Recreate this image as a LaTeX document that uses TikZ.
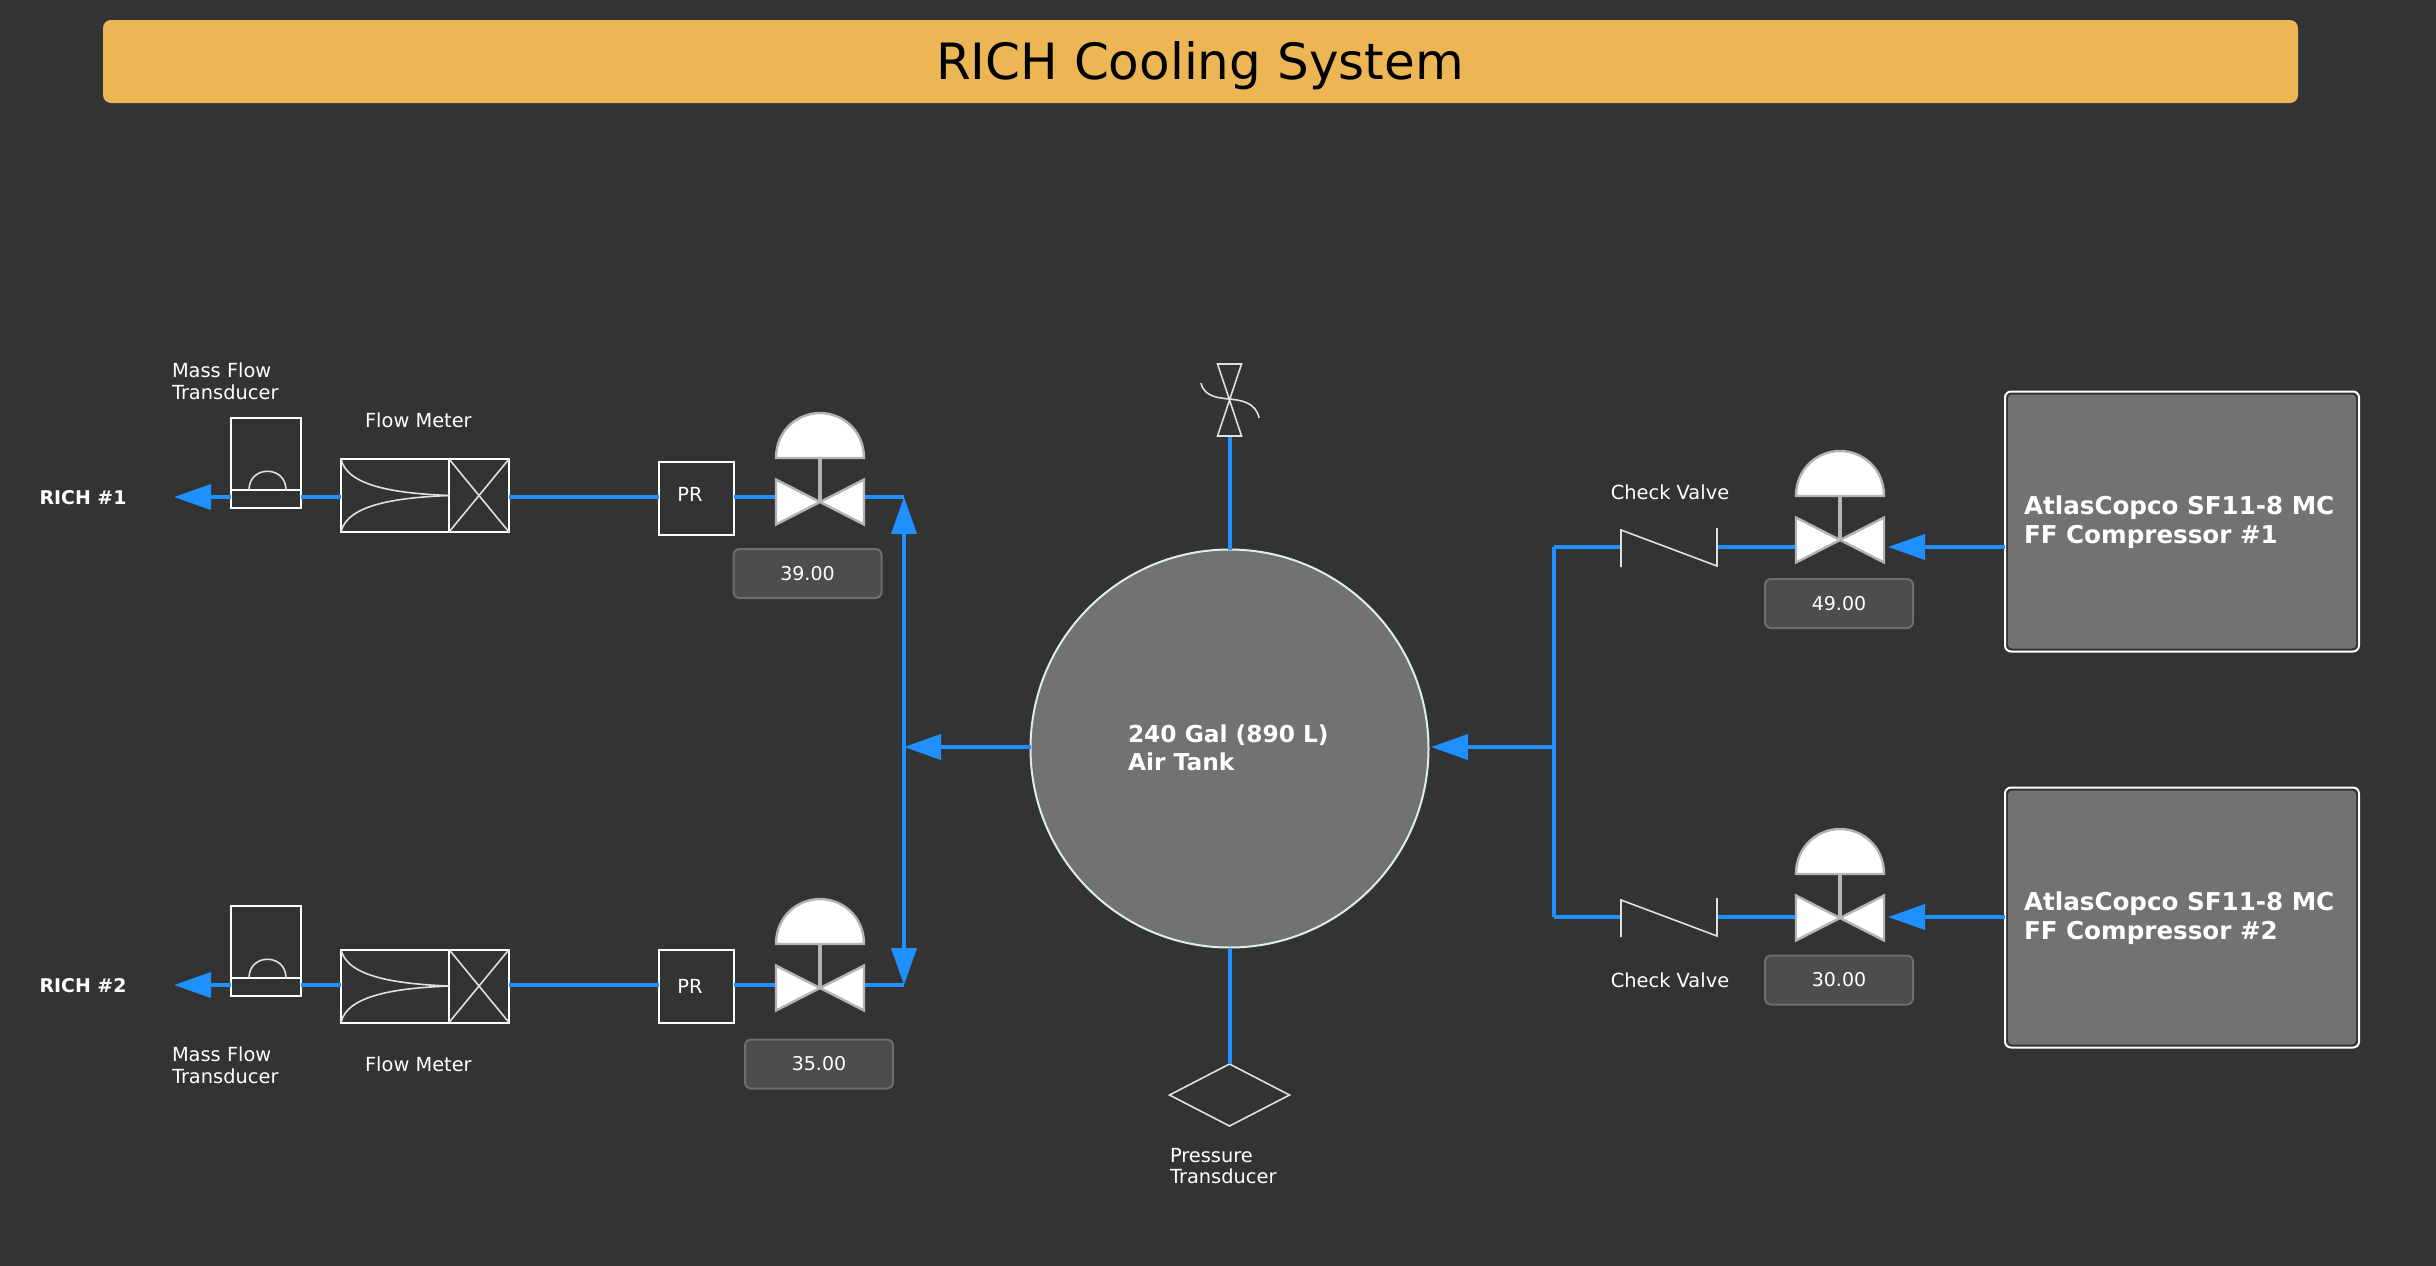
\documentclass[tikz,border=0pt]{standalone}
\usepackage{fontspec}
\setmainfont{DejaVu Sans}
\usetikzlibrary{arrows.meta,shapes.geometric}
\definecolor{panelbg}{HTML}{333333}
\definecolor{pipeblue}{HTML}{1E90FF}
\definecolor{bannerfill}{HTML}{EDB654}
\definecolor{tankfill}{HTML}{727272}
\definecolor{tankline}{HTML}{DCEEEE}
\definecolor{readfill}{HTML}{4D4D4D}
\definecolor{readline}{HTML}{6E6E6E}
\definecolor{valveline}{HTML}{B4B4B4}

\begin{document}
\begin{tikzpicture}[x=0.5pt,y=-0.5pt]
\tikzstyle{every node}+=[inner sep=0pt,outer sep=0pt]
\tikzstyle{pipe}=[pipeblue,line width=2pt]
\tikzstyle{flowtip}=[-{Triangle[length=18.5pt,width=12.5pt]}]
\tikzstyle{symbol}=[draw=white,line width=1pt]
\tikzstyle{thin symbol}=[draw=white!88!black,line width=0.8pt]
\tikzstyle{valvepart}=[draw=valveline,fill=white,line width=1.2pt,line join=miter]
\tikzstyle{stem}=[draw=valveline,line width=1.7pt]
\tikzstyle{small label}=[text=white,align=left,font=\fontsize{9.7}{10.8}\selectfont]
\tikzstyle{rich label}=[text=white,font=\bfseries\fontsize{9.45}{12}\selectfont]
\tikzstyle{tank label}=[text=white,align=left,font=\bfseries\fontsize{11.65}{14}\selectfont]
\tikzstyle{big label}=[text=white,align=left,font=\bfseries\fontsize{12.3}{14.3}\selectfont]
\tikzstyle{readout}=[draw=readline,fill=readfill,line width=1pt,rounded corners=3pt,text=white,minimum width=74pt,minimum height=24.5pt,font=\fontsize{9.5}{11}\selectfont]
\tikzstyle{compressor}=[draw=white,fill=panelbg,line width=1pt,rounded corners=3pt,minimum width=177pt,minimum height=130pt]
\tikzstyle{compressor fill}=[fill=tankfill,rounded corners=2pt,minimum width=174pt,minimum height=127pt]
\useasboundingbox (0,0) rectangle (2436,1265);
\fill [panelbg] (-5,-5) rectangle (2441,1270);

\node [fill=bannerfill,rounded corners=4pt,minimum width=1097.5pt,minimum height=41.5pt] (banner) at (1200.5,61.5) {};
\node [font=\fontsize{25}{30}\selectfont,text=black] (bannertext) at (1200,66) {RICH Cooling System};

\coordinate (rowA) at (0,497);
\coordinate (rowB) at (0,985);
\coordinate (rowC) at (0,547);
\coordinate (rowD) at (0,917);
\coordinate (bendA) at (904,497);
\coordinate (bendB) at (904,985);
\coordinate (teeL) at (904,747);
\coordinate (teeR) at (1553.7,747);
\coordinate (bendC) at (1553.7,547);
\coordinate (bendD) at (1553.7,917);
\coordinate (valveA) at (820,502);
\coordinate (valveB) at (820,988);
\coordinate (valveC) at (1840,540);
\coordinate (valveD) at (1840,918);
\coordinate (valveAin) at (776,497);
\coordinate (valveAout) at (864,497);
\coordinate (valveBin) at (776,985);
\coordinate (valveBout) at (864,985);
\coordinate (valveCin) at (1796,547);
\coordinate (valveDin) at (1796,917);
\coordinate (tipL) at (174,497);
\coordinate (tipM) at (174,985);
\coordinate (tipC) at (1888,547);
\coordinate (tipD) at (1888,917);
\coordinate (tipT) at (1431,747);
\coordinate (vent) at (1229.5,436);
\coordinate (checkAin) at (1621,547);
\coordinate (checkAout) at (1717,547);
\coordinate (checkBin) at (1621,917);
\coordinate (checkBout) at (1717,917);

\node [symbol,minimum width=54pt,minimum height=36.5pt] (meterA) at (395,495.5) {};
\node [symbol,minimum width=30pt,minimum height=36.5pt] (crossA) at (479,495.5) {};
\node [symbol,minimum width=54pt,minimum height=36.5pt] (meterB) at (395,986) {};
\node [symbol,minimum width=30pt,minimum height=36.5pt] (crossB) at (479,986) {};
\node [symbol,minimum width=35pt,minimum height=36pt] (massA) at (266,454) {};
\node [symbol,minimum width=35pt,minimum height=9pt] (baseA) at (266,499) {};
\node [symbol,minimum width=35pt,minimum height=36pt] (massB) at (266,942) {};
\node [symbol,minimum width=35pt,minimum height=9pt] (baseB) at (266,987) {};
\node [symbol,minimum width=37.5pt,minimum height=36.5pt] (prA) at (696,498) {};
\node [text=white,font=\fontsize{9.7}{11}\selectfont] (prAtext) at (690,494) {PR};
\node [symbol,minimum width=37.5pt,minimum height=36.5pt] (prB) at (696,986) {};
\node [text=white,font=\fontsize{9.7}{11}\selectfont] (prBtext) at (690,986.5) {PR};
\node [circle,draw=tankline,fill=tankfill,line width=1pt,minimum size=199pt] (tank) at (1229.5,748.5) {};
\node [compressor] (compA) at (2182,521.5) {};
\node [compressor fill] (compAbody) at (compA.center) {};
\node [compressor] (compB) at (2182,917.5) {};
\node [compressor fill] (compBbody) at (compB.center) {};
\node [draw=white!88!black,line width=0.8pt,diamond,aspect=1.94,minimum width=60pt,minimum height=31pt] (press) at (1229.5,1095) {};

\draw [pipe,flowtip] (baseA.west |- rowA) -- (tipL);
\draw [pipe,flowtip] (baseB.west |- rowB) -- (tipM);
\draw [pipe] (meterA.west |- rowA) -- (baseA.east |- rowA);
\draw [pipe] (meterB.west |- rowB) -- (baseB.east |- rowB);
\draw [pipe] (crossA.east |- rowA) -- (prA.west |- rowA);
\draw [pipe] (crossB.east |- rowB) -- (prB.west |- rowB);
\draw [pipe] (prA.east |- rowA) -- (valveAin);
\draw [pipe] (prB.east |- rowB) -- (valveBin);
\draw [pipe] (valveAout) -- (bendA);
\draw [pipe] (valveBout) -- (bendB);
\draw [pipe,flowtip] (tank.west |- teeL) -- (teeL);
\draw [pipe,flowtip] (teeL) -- (bendA);
\draw [pipe,flowtip] (teeL) -- (bendB);
\draw [pipe,flowtip] (teeR) -- (tipT);
\draw [pipe] (bendC) -- (bendD);
\draw [pipe] (bendC) -- (checkAin);
\draw [pipe] (bendD) -- (checkBin);
\draw [pipe] (checkAout) -- (valveCin);
\draw [pipe] (checkBout) -- (valveDin);
\draw [pipe,flowtip] (compA.west |- rowC) -- (tipC);
\draw [pipe,flowtip] (compB.west |- rowD) -- (tipD);
\draw [pipe] (tank.north) -- (vent);
\draw [pipe] (tank.south) -- (press.north);

\draw [thin symbol] (baseA.north) ++(-17,0) .. controls +(0,-25) and +(0,-25) .. ++(37,0);
\draw [thin symbol] (baseB.north) ++(-17,0) .. controls +(0,-25) and +(0,-25) .. ++(37,0);
\draw [thin symbol] (meterA.north west) .. controls +(6,28) and +(-50,-2) .. (meterA.east);
\draw [thin symbol] (meterA.south west) .. controls +(6,-28) and +(-50,2) .. (meterA.east);
\draw [thin symbol] (meterB.north west) .. controls +(6,28) and +(-50,-2) .. (meterB.east);
\draw [thin symbol] (meterB.south west) .. controls +(6,-28) and +(-50,2) .. (meterB.east);
\draw [thin symbol] (crossA.north west) -- (crossA.south east);
\draw [thin symbol] (crossA.north east) -- (crossA.south west);
\draw [thin symbol] (crossB.north west) -- (crossB.south east);
\draw [thin symbol] (crossB.north east) -- (crossB.south west);

\draw [valvepart] (valveA) ++(-44,-44) .. controls +(0,-28) and +(-22,0) .. ++(44,-45) .. controls +(22,0) and +(0,-28) .. ++(44,45) -- cycle;
\draw [valvepart] (valveA) -- ++(-44,-22.5) -- ++(0,45) -- cycle (valveA) -- ++(44,-22.5) -- ++(0,45) -- cycle;
\draw [stem] (valveA) -- ++(0,-44);
\draw [valvepart] (valveB) ++(-44,-44) .. controls +(0,-28) and +(-22,0) .. ++(44,-45) .. controls +(22,0) and +(0,-28) .. ++(44,45) -- cycle;
\draw [valvepart] (valveB) -- ++(-44,-22.5) -- ++(0,45) -- cycle (valveB) -- ++(44,-22.5) -- ++(0,45) -- cycle;
\draw [stem] (valveB) -- ++(0,-44);
\draw [valvepart] (valveC) ++(-44,-44) .. controls +(0,-28) and +(-22,0) .. ++(44,-45) .. controls +(22,0) and +(0,-28) .. ++(44,45) -- cycle;
\draw [valvepart] (valveC) -- ++(-44,-22.5) -- ++(0,45) -- cycle (valveC) -- ++(44,-22.5) -- ++(0,45) -- cycle;
\draw [stem] (valveC) -- ++(0,-44);
\draw [valvepart] (valveD) ++(-44,-44) .. controls +(0,-28) and +(-22,0) .. ++(44,-45) .. controls +(22,0) and +(0,-28) .. ++(44,45) -- cycle;
\draw [valvepart] (valveD) -- ++(-44,-22.5) -- ++(0,45) -- cycle (valveD) -- ++(44,-22.5) -- ++(0,45) -- cycle;
\draw [stem] (valveD) -- ++(0,-44);

\draw [thin symbol] (checkAin) ++(0,-18) -- ++(0,38) (checkAin) ++(0,-17) -- ++(96,36) -- ++(0,-38);
\draw [thin symbol] (checkBin) ++(0,-18) -- ++(0,38) (checkBin) ++(0,-17) -- ++(96,36) -- ++(0,-38);
\draw [thin symbol] (1217.5,364) -- (1241.5,364) -- (1217.5,436) -- (1241.5,436) -- cycle;
\draw [thin symbol] (1201,383) .. controls (1204,398) and (1222,398) .. (1229,399) .. controls (1240,400) and (1256,402) .. (1259,418);

\node [readout] (readA) at (807.5,573.5) {39.00};
\node [readout] (readB) at (819,1064) {35.00};
\node [readout] (readC) at (1839,603.5) {49.00};
\node [readout] (readD) at (1839,980) {30.00};

\node [rich label] (richA) at (83,498) {RICH \#1};
\node [rich label] (richB) at (83,986) {RICH \#2};
\node [small label,anchor=west] (massAtext) at (172,381.5) {Mass Flow\\Transducer};
\node [small label,anchor=west] (massBtext) at (172,1065.5) {Mass Flow\\Transducer};
\node [small label] (meterAtext) at (418.4,420) {Flow Meter};
\node [small label] (meterBtext) at (418.4,1064) {Flow Meter};
\node [small label] (checkAtext) at (1670,492) {Check Valve};
\node [small label] (checkBtext) at (1670,980) {Check Valve};
\node [small label,anchor=west] (presstext) at (1170,1166) {Pressure\\Transducer};
\node [tank label,anchor=west] (tanktext) at (1128,748) {240 Gal (890 L)\\Air Tank};
\node [big label,anchor=west] (compAtext) at (2024,522) {AtlasCopco SF11-8 MC\\FF Compressor \#1};
\node [big label,anchor=west] (compBtext) at (2024,918) {AtlasCopco SF11-8 MC\\FF Compressor \#2};
\end{tikzpicture}
\end{document}
